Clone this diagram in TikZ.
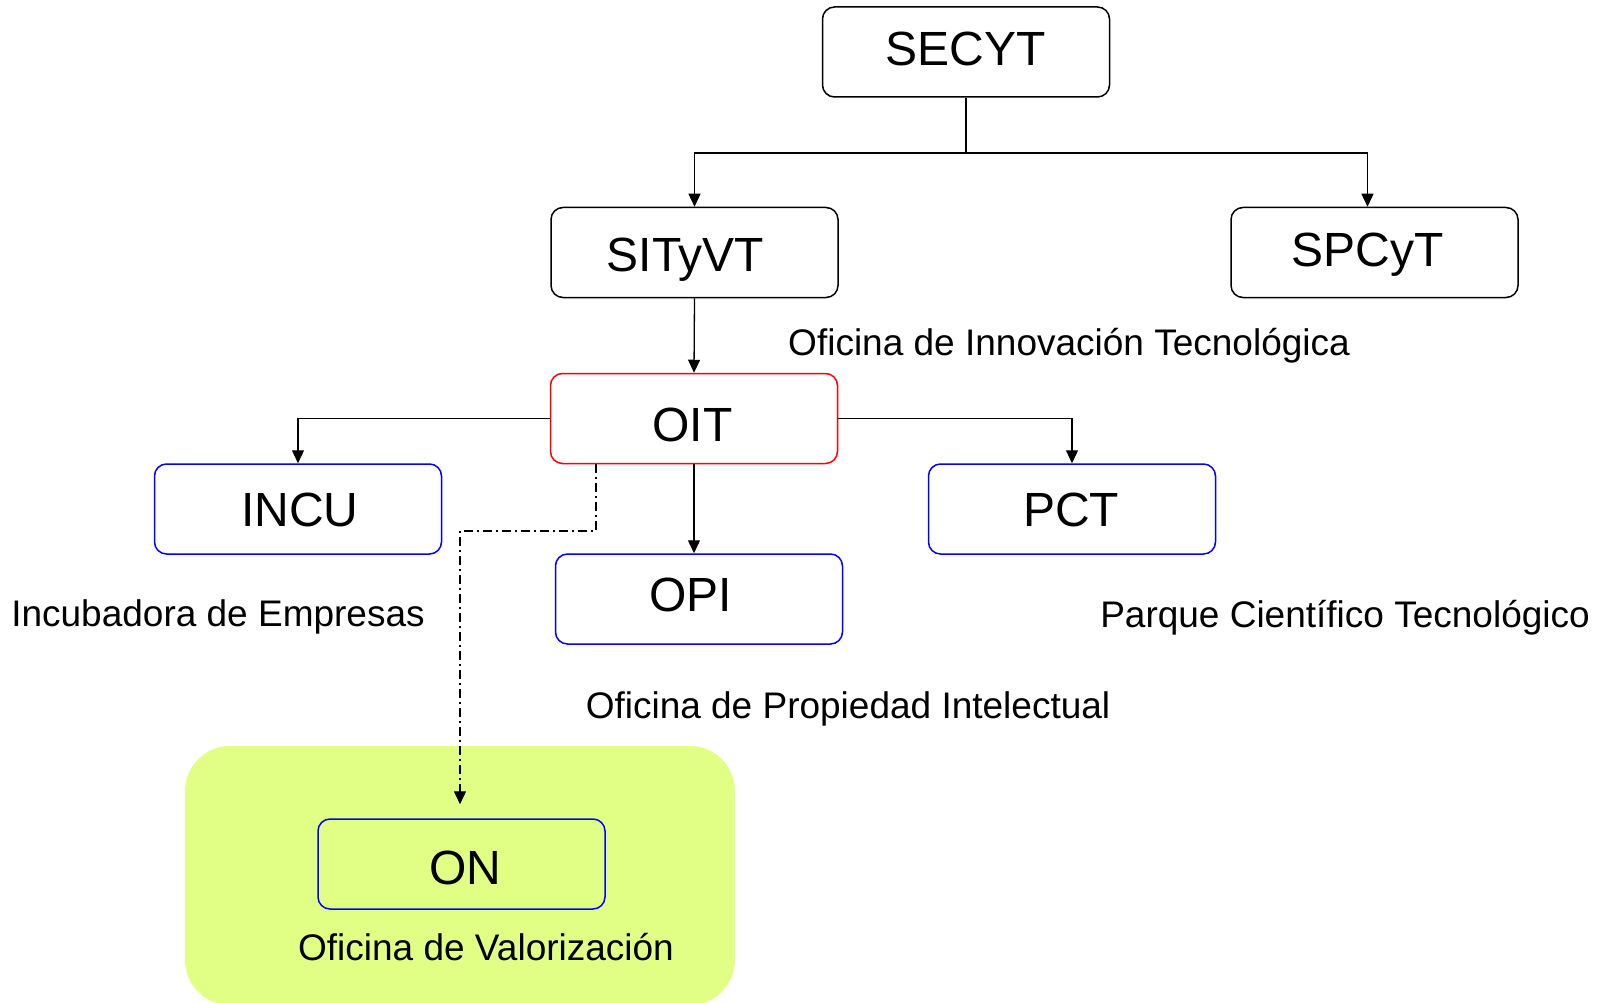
\documentclass[tikz,border=0pt]{standalone}
\usepackage{fontspec}
\setmainfont{Liberation Sans}
\usetikzlibrary{arrows.meta}
\definecolor{lime}{RGB}{224,255,132}
\tikzset{
  box/.style={draw, line width=1.5pt, rounded corners=12pt, minimum width=287pt, minimum height=90pt, inner sep=0pt},
  boxtxt/.style={inner sep=0pt, anchor=base, font=\fontsize{48}{54}\selectfont},
  lbl/.style={inner sep=0pt, font=\fontsize{37}{42}\selectfont},
  arr/.style={line width=1.3pt, -{Triangle[width=12pt,length=13pt]}},
  dashdot/.style={line width=1.3pt, dash pattern=on 9pt off 4pt on 2pt off 4pt, -{Triangle[width=12pt,length=13pt]}}
}
\begin{document}
\begin{tikzpicture}[x=1pt,y=-1pt]
\useasboundingbox (0,0) rectangle (1604,1003);
\begin{scope}
\clip (0,0) rectangle (1604,1003);
\fill[lime, rounded corners=45pt] (185,746) rectangle (735,1005);
\end{scope}
\node[box] (secyt) at (966,52) {};
\node[box] (sityvt) at (694.5,252.5) {};
\node[box] (spcyt) at (1374.5,252.5) {};
\node[box, draw=red] (oit) at (694,418.5) {};
\node[box, draw=blue] (incu) at (298,509) {};
\node[box, draw=blue] (opi) at (699,599) {};
\node[box, draw=blue] (pct) at (1072,509) {};
\node[box, draw=blue] (on) at (461.5,864) {};
\node[boxtxt] (secyt-t) at (965.5,65.5) {SECYT};
\node[boxtxt] (sityvt-t) at (685.5,272) {SITyVT};
\node[boxtxt] (spcyt-t) at (1367.5,266.5) {SPCyT};
\node[boxtxt] (oit-t) at (692.5,441.5) {OIT};
\node[boxtxt] (incu-t) at (300,526.5) {INCU};
\node[boxtxt] (opi-t) at (690.5,611) {OPI};
\node[boxtxt] (pct-t) at (1071,526) {PCT};
\node[boxtxt] (on-t) at (465,884.5) {ON};
\node[lbl] (linn) at (1069,346) {Oficina de Innovación Tecnológica};
\node[lbl] (linc) at (218,617) {Incubadora de Empresas};
\node[lbl] (lopi) at (848,709) {Oficina de Propiedad Intelectual};
\node[lbl] (lpct) at (1345,618) {Parque Científico Tecnológico};
\node[lbl] (lon) at (486,947) {Oficina de Valorización};
\coordinate (j) at (966,153);
\draw[line width=1.3pt] (secyt.south) -- (j);
\draw[arr] (j) -| (sityvt.north);
\draw[arr] (j) -| ([xshift=-7pt]spcyt.north);
\draw[arr] (sityvt.south) -- (oit.north);
\draw[arr] (oit.west) -| (incu.north);
\draw[arr] (oit.east) -| (pct.north);
\draw[arr] (oit.south) -- (oit.south |- opi.north);
\coordinate (d1) at ([xshift=-98pt]oit.south);
\coordinate (d2) at (460,531);
\draw[dashdot] (d1) |- (d2) -- ([yshift=14pt]on.north -| d2);
\end{tikzpicture}
\end{document}
